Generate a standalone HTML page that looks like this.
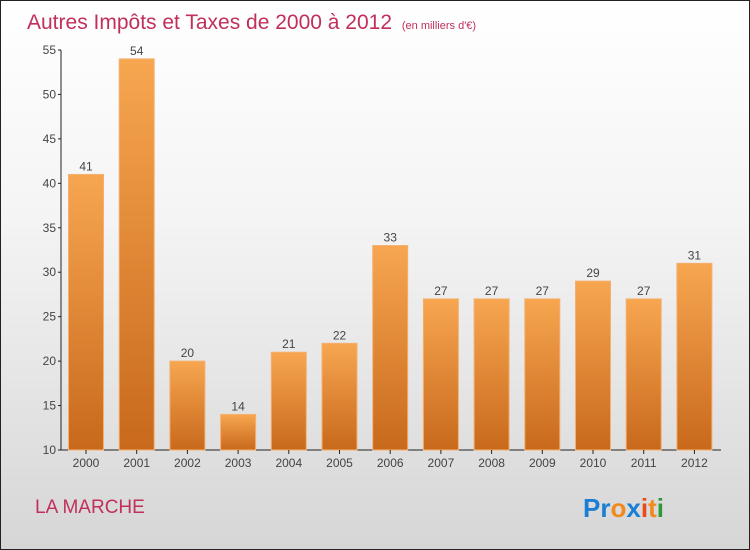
<!DOCTYPE html>
<html><head><meta charset="utf-8"><style>
body{margin:0}
#c{width:748px;height:548px;border:1px solid #222;background:linear-gradient(#fff,#f4f4f4 40%,#d6d6d6);position:relative;font-family:"Liberation Sans",sans-serif;overflow:hidden}
</style></head><body>
<div id="c">
<svg width="748" height="548" id="svg">
<defs><linearGradient id="g" x1="0" y1="0" x2="0" y2="1"><stop offset="0" stop-color="#f7a650"/><stop offset="1" stop-color="#c8691c"/></linearGradient></defs>
<text x="26" y="28" font-size="21" fill="#c0305a">Autres Impôts et Taxes de 2000 à 2012 <tspan font-size="11" dx="4">(en milliers d'€)</tspan></text>
<text x="34" y="512" font-size="19" fill="#c0305a">LA MARCHE</text>
<g id="plot"></g>
<text x="582" y="516" font-size="26" font-weight="bold"><tspan fill="#1a7fd4">Pr</tspan><tspan fill="#f08a1c">o</tspan><tspan fill="#1a7fd4">x</tspan><tspan fill="#e84a1c">i</tspan><tspan fill="#f08a1c">t</tspan><tspan fill="#2a9a3a">i</tspan></text>
</svg></div>
<script>
const years=["2000","2001","2002","2003","2004","2005","2006","2007","2008","2009","2010","2011","2012"];
const values=[41,54,20,14,21,22,33,27,27,27,29,27,31];
const ticks=[10,15,20,25,30,35,40,45,50,55];
const NS="http://www.w3.org/2000/svg";
const g=document.getElementById('plot');
const y=v=>449-(v-10)*400/45;
const x=i=>85+i*50.7;
function mk(t,a){const e=document.createElementNS(NS,t);for(const k in a)e.setAttribute(k,a[k]);g.appendChild(e);return e;}
let ax=mk('line',{x1:60,y1:y(55),x2:60,y2:449,stroke:'#222'});


let bx=mk('line',{x1:60,y1:449,x2:720,y2:449,stroke:'#222'});


ticks.forEach(t=>{
 mk('line',{x1:57,y1:y(t),x2:60,y2:y(t),stroke:'#222'});
 const tx=mk('text',{x:55,y:y(t)+4,'font-size':12,'text-anchor':'end',fill:'#444'});tx.textContent=t;
 
 
});
values.forEach((v,i)=>{
 const r=mk('rect',{x:x(i)-17.5,y:y(v),width:35,height:449-y(v),fill:'url(#g)',stroke:'#f5b070','stroke-width':1});
 
 
 const l=mk('text',{x:x(i),y:y(v)-4,'font-size':12,'text-anchor':'middle',fill:'#444'});l.textContent=v;
 
 
 mk('line',{x1:x(i),y1:449,x2:x(i),y2:453,stroke:'#222'});
 const yl=mk('text',{x:x(i),y:466,'font-size':12,'text-anchor':'middle',fill:'#444'});yl.textContent=years[i];
 
 
});
</script>
</body></html>
